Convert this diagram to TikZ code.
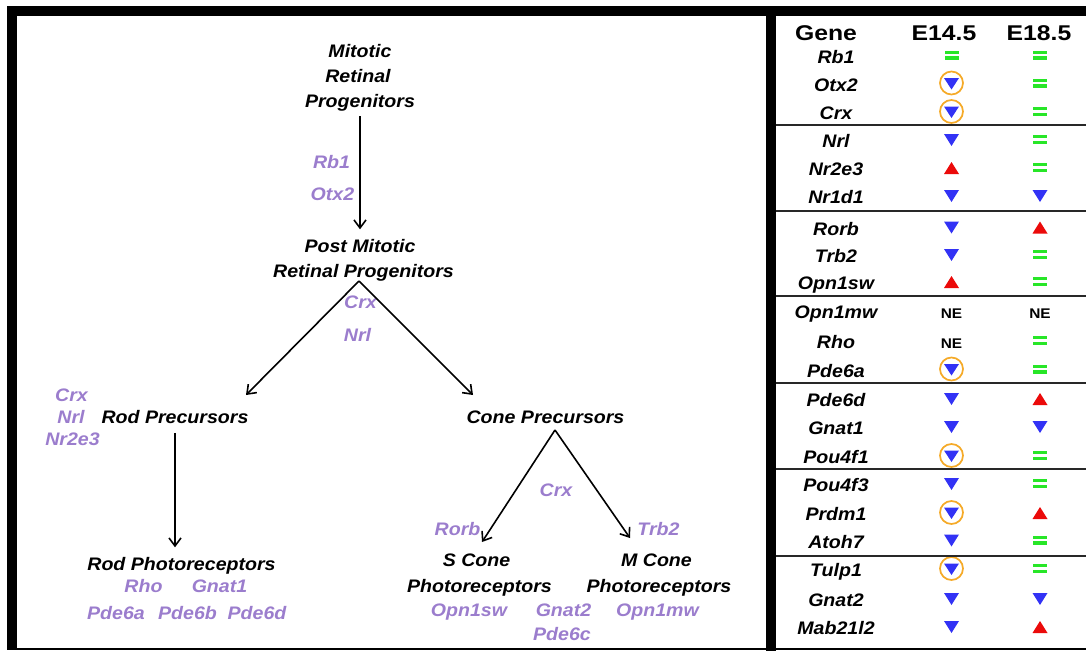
\documentclass[tikz,border=0pt]{standalone}
\usepackage{fontspec}
\setmainfont{Liberation Sans}
\usetikzlibrary{arrows.meta}
\definecolor{lav}{RGB}{155,125,205}
\definecolor{tgreen}{RGB}{40,230,40}
\definecolor{tblue}{RGB}{50,50,245}
\definecolor{tred}{RGB}{235,10,10}
\definecolor{torange}{RGB}{245,170,40}
\definecolor{sepgray}{RGB}{40,40,40}
\tikzset{
  teq/.pic={\fill[tgreen] (-7,-4.5) rectangle (7,-1.2); \fill[tgreen] (-7,1.2) rectangle (7,4.5);},
  tdn/.pic={\fill[tblue] (-7.5,-5.5) -- (7.5,-5.5) -- (0,6.5) -- cycle;},
  tup/.pic={\fill[tred] (-7.5,6.5) -- (7.5,6.5) -- (0,-5.5) -- cycle;},
  tcdn/.pic={\fill[tblue] (-7.5,-5) -- (7.5,-5) -- (0,6.5) -- cycle; \draw[torange,line width=1.3pt] (0,0) circle (11.5);},
  tne/.pic={\node[font=\fontsize{10.5}{12}\selectfont\bfseries, xscale=1.1, inner sep=0pt] (-t) at (0,3) {NE};},
}
\begin{document}
\begin{tikzpicture}[x=0.75pt,y=-0.75pt,
  lbl/.style={font=\fontsize{13.6}{15}\selectfont\bfseries\itshape, xscale=1.08, inner sep=0pt, anchor=base},
  blk/.style={lbl, text=black},
  prp/.style={lbl, text=lav},
  hdr/.style={font=\fontsize{16}{18}\selectfont\bfseries, xscale=1.16, inner sep=0pt, anchor=base},
  arr/.style={line width=1.2pt, -{Straight Barb[length=6pt,width=9pt,line width=1.2pt]}},
  sep/.style={draw=sepgray, line width=1.5pt},
]
\useasboundingbox (0,0) rectangle (1086,651);
% frame
\fill[black] (7,6) rectangle (1086,16);
\fill[black] (7,6) rectangle (17,650);
\fill[black] (766,6) rectangle (776,651);
\fill[black] (7,647.5) rectangle (1086,649.5);

% ---------- left: lineage tree ----------
\node[blk] (mrp1) at (360,57) {Mitotic};
\node[blk] (mrp2) at (358,82) {Retinal};
\node[blk] (mrp3) at (360,107) {Progenitors};
\node[prp] (rb1) at (331.5,168) {Rb1};
\node[prp] (otx2) at (332.5,200) {Otx2};
\node[blk] (pmrp1) at (360,252) {Post Mitotic};
\node[blk] (pmrp2) at (363.5,277) {Retinal Progenitors};
\node[prp] (crx1) at (360.5,308) {Crx};
\node[prp] (nrl1) at (357.5,341) {Nrl};

\node[blk] (rp) at (175,423) {Rod Precursors};
\node[prp] (crx2) at (71.5,401) {Crx};
\node[prp] (nrl2) at (71,423) {Nrl};
\node[prp] (nr2e3) at (72.5,445) {Nr2e3};
\node[blk] (rph) at (181.5,570) {Rod Photoreceptors};
\node[prp] (rho) at (143.5,592) {Rho};
\node[prp] (gnat1) at (219.5,592) {Gnat1};
\node[prp] (pde6a) at (116,619) {Pde6a};
\node[prp] (pde6b) at (187.5,619) {Pde6b};
\node[prp] (pde6d) at (257,619) {Pde6d};

\node[blk] (cp) at (545.5,423) {Cone Precursors};
\node[prp] (crx3) at (556,496) {Crx};
\node[prp] (rorb) at (457.5,535) {Rorb};
\node[prp] (trb2) at (658.5,535) {Trb2};
\node[blk] (sc1) at (476.5,566) {S Cone};
\node[blk] (sc2) at (479.5,592) {Photoreceptors};
\node[blk] (mc1) at (656.5,566) {M Cone};
\node[blk] (mc2) at (659,592) {Photoreceptors};
\node[prp] (opn1sw) at (469,616) {Opn1sw};
\node[prp] (gnat2) at (563.5,616) {Gnat2};
\node[prp] (pde6c) at (562,640) {Pde6c};
\node[prp] (opn1mw) at (657.5,616) {Opn1mw};

\coordinate (split1) at (359,281);
\coordinate (rpin) at (246,395);
\coordinate (cpin) at (473,395);
\coordinate (split2) at (555,430);
\coordinate (scin) at (482,542);
\coordinate (mcin) at (630,538);

\draw[arr, shorten <=4pt, shorten >=7pt] (mrp3.south) -- (mrp3.south |- pmrp1.north);
\draw[arr] (split1) -- (rpin);
\draw[arr] (split1) -- (cpin);
\draw[arr, shorten <=7pt, shorten >=7pt] (rp.south) -- (rp.south |- rph.north);
\draw[arr] (split2) -- (scin);
\draw[arr] (split2) -- (mcin);

% ---------- right: table ----------
\node[hdr] (hgene) at (826,40) {Gene};
\node[hdr] (he145) at (944,40) {E14.5};
\node[hdr] (he185) at (1039,40) {E18.5};

\foreach \n/\yy/\g/\a/\b in {
  1/56.5/Rb1/teq/teq, 2/84.5/Otx2/tcdn/teq, 3/113/Crx/tcdn/teq,
  4/141/Nrl/tdn/teq, 5/169/Nr2e3/tup/teq, 6/197/Nr1d1/tdn/tdn,
  7/228.5/Rorb/tdn/tup, 8/256/Trb2/tdn/teq, 9/283/Opn1sw/tup/teq,
  10/312/Opn1mw/tne/tne, 11/342/Rho/tne/teq, 12/370.5/Pde6a/tcdn/teq,
  13/400/Pde6d/tdn/tup, 14/428/Gnat1/tdn/tdn, 15/457/Pou4f1/tcdn/teq,
  16/485/Pou4f3/tdn/teq, 17/514/Prdm1/tcdn/tup, 18/541.5/Atoh7/tdn/teq,
  19/570/Tulp1/tcdn/teq, 20/600/Gnat2/tdn/tdn, 21/628/Mab21l2/tdn/tup}{
  \node[blk] (g\n) at (836,{\yy+6.5}) {\g};
  \pic (sa\n) at (951.5,{\yy-1.5}) {\a};
  \pic (sb\n) at (1040,{\yy-1.5}) {\b};
}

\foreach \yy in {125,211,296,383,469,556}{
  \draw[sep] (776,\yy) -- (1086,\yy);
}
\end{tikzpicture}
\end{document}
